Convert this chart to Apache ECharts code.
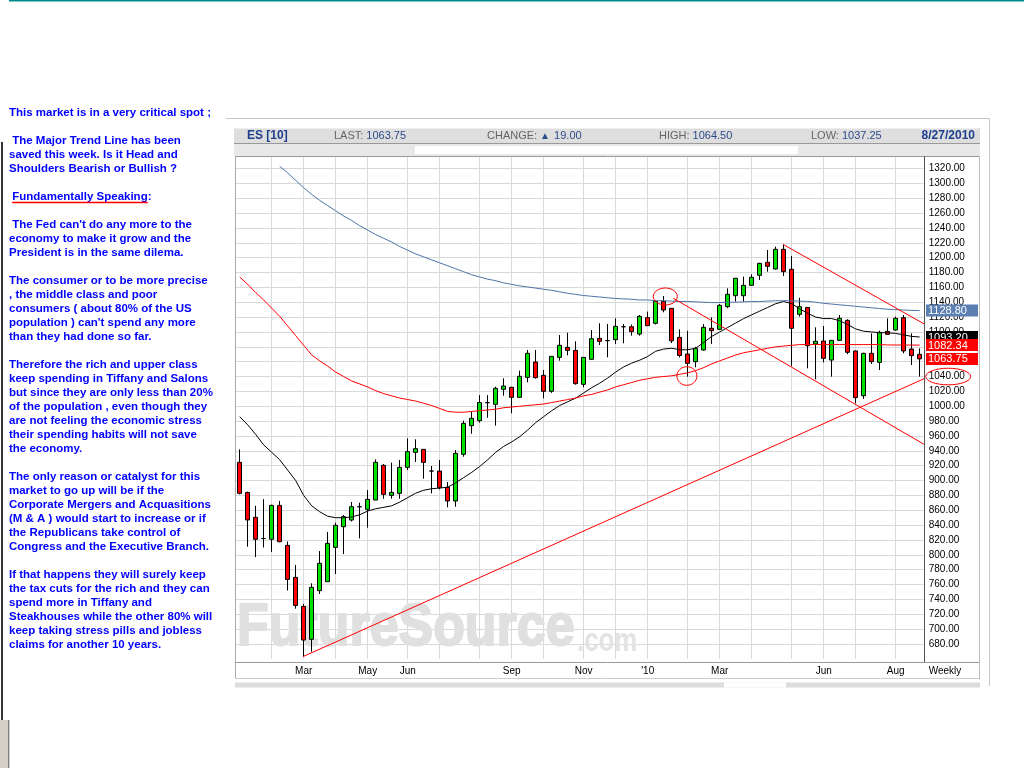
<!DOCTYPE html>
<html>
<head>
<meta charset="utf-8">
<title>ES [10] weekly</title>
<script src="https://cdn.jsdelivr.net/npm/echarts@6/dist/echarts.min.js"></script>
<style>
  html, body { margin: 0; padding: 0; background: #fff; }
  #chart { width: 1024px; height: 768px; }
</style>
</head>
<body>
<div id="chart"></div>
<script>
// weekly bars, Friday of each week
var weeks = [
  '2009-01-09','2009-01-16','2009-01-23','2009-01-30',
  '2009-02-06','2009-02-13','2009-02-20','2009-02-27',
  '2009-03-06','2009-03-13','2009-03-20','2009-03-27',
  '2009-04-03','2009-04-10','2009-04-17','2009-04-24',
  '2009-05-01','2009-05-08','2009-05-15','2009-05-22','2009-05-29',
  '2009-06-05','2009-06-12','2009-06-19','2009-06-26',
  '2009-07-03','2009-07-10','2009-07-17','2009-07-24','2009-07-31',
  '2009-08-07','2009-08-14','2009-08-21','2009-08-28',
  '2009-09-04','2009-09-11','2009-09-18','2009-09-25',
  '2009-10-02','2009-10-09','2009-10-16','2009-10-23','2009-10-30',
  '2009-11-06','2009-11-13','2009-11-20','2009-11-27',
  '2009-12-04','2009-12-11','2009-12-18','2009-12-25',
  '2010-01-01','2010-01-08','2010-01-15','2010-01-22','2010-01-29',
  '2010-02-05','2010-02-12','2010-02-19','2010-02-26',
  '2010-03-05','2010-03-12','2010-03-19','2010-03-26',
  '2010-04-02','2010-04-09','2010-04-16','2010-04-23','2010-04-30',
  '2010-05-07','2010-05-14','2010-05-21','2010-05-28',
  '2010-06-04','2010-06-11','2010-06-18','2010-06-25',
  '2010-07-02','2010-07-09','2010-07-16','2010-07-23','2010-07-30',
  '2010-08-06','2010-08-13','2010-08-20','2010-08-27'
];

var opens = [
  924.5,884,850.5,822,821,866.6,812.8,769.7,730.7,686.3,
  751.8,763.9,810.1,837.9,846.9,864.8,861.3,873.8,920.5,880.1,
  882.8,917.8,938,942,912.8,912.8,890.9,872.5,935.3,973.9,
  980.6,1004.8,1002.6,1022.8,1025.5,1012,1038.9,1059.5,1041.6,1020.1,
  1065.8,1079.3,1075.2,1029.5,1063.1,1091.4,1088.3,1089.6,1107,1107,
  1097.2,1119.2,1111.6,1141.2,1131.8,1092.7,1070.3,1060,1075.7,1104.9,
  1103.5,1134,1148.8,1148.8,1162.7,1176.2,1193.7,1184.7,1211.2,1184.3,
  1123.7,1133,1083.8,1087.8,1062.2,1088.7,1115.6,1074.4,1014.2,1071.2,
  1059.1,1100.8,1102.6,1119.2,1077,1069.9
];
var closes = [
  882.8,847,821,822,866.6,817.7,767,732,685.4,756.3,
  788.6,815.5,839.7,851.4,864.8,864.8,874.7,924.5,881.4,884.1,
  917.8,938.9,942.9,924.5,912.8,890.4,872.5,936.6,977,983.7,
  1005,1004.8,1024.1,1027.2,1012,1040.3,1071.2,1038.5,1020.1,1067.2,
  1082,1075.2,1030.4,1065.8,1090.9,1087.4,1088.3,1107.5,1107,1100.4,
  1121,1108.4,1141.2,1129.5,1088,1068.3,1057.8,1077.9,1106.2,1101.7,
  1135.8,1150.6,1172.2,1162.7,1173.5,1192.3,1188.3,1211.2,1181.1,1104.9,
  1134,1081.5,1087.4,1064.5,1088.7,1118.3,1072.6,1011.6,1071.2,1060,
  1099.5,1096.8,1118.3,1074.4,1068.1,1063.75
];
var lows = [
  881.4,811,797,810,804,817,752,727.6,663,669.7,
  747.3,763.9,774.2,801.1,845,822.2,836.6,873.8,875.6,875.6,
  875.6,914.2,925,902.5,882.8,888.2,864,864.8,932.1,963,
  978,984.6,973.9,1014.2,990.5,1012,1032.2,1037.1,1010.6,1018,
  1061.3,1068.5,1029,1025.5,1063,1082.4,1065.8,1083.8,1084.7,1095,
  1095,1108,1110,1126.4,1085,1065.8,1039.8,1052.4,1075,1083.8,
  1103,1132,1140.8,1140.8,1162,1169.9,1181.1,1184,1175.3,1054.2,
  1120.6,1051,1036.2,1059.1,1039.8,1088,1070,1003.9,1010,1056.9,
  1048.8,1096,1102,1071.2,1055.5,1039.8
];
var highs = [
  942,885,866,875,867.5,872.5,818,786.4,734,761.7,
  805.2,830.8,843.3,853.6,871.1,870.2,887.3,928.5,922.3,924.1,
  927.7,956.8,955.5,942.5,919.6,927.7,898,941.1,980.6,993,
  1015,1015.1,1026.3,1037.6,1026,1047.9,1075.7,1075.7,1048.8,1067.5,
  1095.9,1099,1087.4,1066,1102.6,1111.6,1110.7,1118.3,1110.7,1110,
  1122.8,1127.3,1142,1148.4,1132,1103.5,1101.5,1080,1110.7,1119.7,
  1137.6,1158.7,1172.5,1174.4,1177.5,1193,1210.3,1214.8,1217,1202.2,
  1146,1133.5,1106.2,1108,1089,1122.8,1117,1075,1072,1098.1,
  1101.7,1118.3,1120.6,1122.8,1098.1,1077.9
];

// moving averages
var maShort = [
  986,975,962,948,938,928,914,900,880,866,
  858,852,850,850,851,854,859,862,864,866,
  871,877,883,887,889,890,891,897,904,911,
  919,928,938,946,952,959,968,978,986,994,
  1001,1006,1011,1018,1025,1031,1038,1046,1053,1058,
  1062,1067,1074,1077,1078,1076,1076,1078,1086,1094,
  1100,1106,1112,1118,1123,1128,1133,1138,1141,1138,
  1131,1125,1120,1118,1118,1115,1110,1104,1101,1100,
  1099,1099,1098,1096,1094,1093.2
];
var maMid = [
  1174,1164,1153,1143,1132,1121,1108,1095,1082,1069,
  1061,1054,1046,1040,1034,1030,1026,1021,1017,1014,
  1011,1009,1007,1004,1001,997,993,992,992,993,
  994,995,996,998,999,1000,1001,1002,1003,1005,
  1007,1009,1011,1014,1016,1019,1022,1026,1029,1032,
  1035,1037,1039,1040,1041,1043,1045,1048,1052,1057,
  1061,1065,1069,1072,1074,1076,1078,1080,1081,1082,
  1083,1083,1083,1083,1083,1083,1083,1083,1083,1083,
  1083,1082.5,1082.4,1082.4,1082.3,1082.34
];
var maLong = [
  null,null,null,null,null,1323,1314,1304,1294,1285,
  1277,1270,1263,1256,1250,1243,1237,1231,1226,1221,
  1215,1210,1205,1201,1197,1193,1189,1185,1181,1177,
  1174,1171,1169,1166,1164,1162,1160.5,1159,1157.5,1156,
  1154,1152,1150.5,1149,1148,1147,1146,1145,1144.5,1144,
  1143,1143,1142,1142,1141.5,1141,1141,1140.5,1140,1139.5,
  1139.5,1140,1140,1140.5,1141,1141,1141.5,1142,1142,1142,
  1141.5,1141,1140,1138.5,1137.5,1136.5,1135.5,1134.5,1133.5,1132.5,
  1131.5,1130.5,1130,1129.5,1129,1128.8
];

// hand drawn lines, [week index, price]
var trendUp = [[7.9, 663], [85.66, 1037.6]];
var channelTop = [[67.9, 1218], [86.9, 1102.6]];
var channelLow = [[54.2, 1145.3], [85.5, 949], [95, 947]];
// circled spots, [week index, price]
var circleTop = [53.2, 1147.7];
var circleLow = [55.9, 1040.7];
var supportLevel = 1040;

var tickIdx = [8, 16, 21, 34, 43, 51, 60, 73, 82];
var tickLabels = ['Mar', 'May', 'Jun', 'Sep', 'Nov', "'10", 'Mar', 'Jun', 'Aug'];

var header = {
  symbol: 'ES [10]', last: '1063.75', change: '19.00',
  high: '1064.50', low: '1037.25', date: '8/27/2010'
};

var notes = [
  'This market is in a very critical spot ;',
  '',
  ' The Major Trend Line has been',
  'saved this week. Is it Head and',
  'Shoulders Bearish or Bullish ?',
  '',
  ' Fundamentally Speaking:',
  '',
  " The Fed can't do any more to the",
  'economy to make it grow and the',
  'President is in the same dilema.',
  '',
  'The consumer or to be more precise',
  ', the middle class and poor',
  'consumers ( about 80% of the US',
  "population ) can't spend any more",
  'than they had done so far.',
  '',
  'Therefore the rich and upper class',
  'keep spending in Tiffany and Salons',
  'but since they are only less than 20%',
  'of the population , even though they',
  'are not feeling the economic stress',
  'their spending habits will not save',
  'the economy.',
  '',
  'The only reason or catalyst for this',
  'market to go up will be if the',
  'Corporate Mergers and Acquasitions',
  '(M & A ) would start to increase or if',
  'the Republicans take control of',
  'Congress and the Executive Branch.',
  '',
  'If that happens they will surely keep',
  'the tax cuts for the rich and they can',
  'spend more in Tiffany and',
  'Steakhouses while the other 80% will',
  'keep taking stress pills and jobless',
  'claims for another 10 years.'
];

var FONT = '"Liberation Sans", Arial, sans-serif';
var noteFont = 'bold 11.5px ' + FONT;

var monthStarts = [];
for (var i = 1; i < weeks.length; i++) {
  if (weeks[i].slice(5, 7) !== weeks[i - 1].slice(5, 7)) monthStarts.push(i);
}

var chart = echarts.init(document.getElementById('chart'));

var redLine = { color: '#ff0000', width: 1 };

chart.setOption({
  animation: false,
  backgroundColor: '#fff',
  grid: { left: 235.7, top: 153.6, width: 688, height: 505.3 },
  xAxis: [{
    type: 'category',
    data: weeks,
    boundaryGap: true,
    axisLine: { show: false },
    axisTick: { show: false },
    splitLine: { show: false },
    axisLabel: {
      interval: function (idx) { return tickIdx.indexOf(idx) >= 0; },
      formatter: function (v, idx) { return tickLabels[tickIdx.indexOf(idx)]; },
      color: '#000', fontSize: 10, fontFamily: FONT, margin: 7
    }
  }, {
    type: 'value', min: -0.5, max: 85.5, show: false,
    splitLine: { show: false }
  }],
  yAxis: {
    type: 'value',
    position: 'right',
    min: 660, max: 1340, interval: 20,
    axisLine: { show: false },
    axisTick: { show: false },
    axisLabel: {
      formatter: function (v) { return v.toFixed(2); },
      color: '#000', fontSize: 10, fontFamily: FONT, margin: 5,
      showMinLabel: false, showMaxLabel: false
    },
    splitLine: { show: true, showMinLine: false, showMaxLine: false, lineStyle: { color: '#d9d9d9', width: 1 } }
  },
  series: [{
    type: 'candlestick',
    name: 'ES',
    barWidth: 5,
    data: weeks.map(function (d, i) { return [opens[i], closes[i], lows[i], highs[i]]; }),
    itemStyle: {
      color: '#00e000', color0: '#ff0000',
      borderColor: '#000', borderColor0: '#000', borderWidth: 1
    },
    emphasis: { disabled: true },
    markLine: {
      z: 0, silent: true, symbol: 'none', animation: false,
      label: { show: false },
      lineStyle: { color: '#d9d9d9', width: 1, type: 'solid' },
      emphasis: { disabled: true },
      data: monthStarts.map(function (i) { return { xAxis: weeks[i] }; })
    }
  }, {
    type: 'line', name: 'MA short', data: maShort, showSymbol: false, z: 3,
    lineStyle: { color: '#000', width: 1 }, silent: true
  }, {
    type: 'line', name: 'MA mid', data: maMid, showSymbol: false, z: 3,
    lineStyle: { color: '#ff0000', width: 1 }, silent: true
  }, {
    type: 'line', name: 'MA long', data: maLong, showSymbol: false, z: 3,
    lineStyle: { color: '#4f73a8', width: 1 }, silent: true
  }, {
    type: 'line', xAxisIndex: 1, data: trendUp, showSymbol: false, z: 4,
    lineStyle: redLine, silent: true, clip: false
  }, {
    type: 'line', xAxisIndex: 1, data: channelTop, showSymbol: false, z: 4,
    lineStyle: redLine, silent: true, clip: false
  }, {
    type: 'line', xAxisIndex: 1, data: channelLow, showSymbol: false, z: 4,
    lineStyle: redLine, silent: true, clip: false
  }]
});

// page decorations and texts
function px(x, y) { return chart.convertToPixel({ xAxisIndex: 1, yAxisIndex: 0 }, [x, y]); }
function py(v) { return chart.convertToPixel({ yAxisIndex: 0 }, v); }

var ctx = document.createElement('canvas').getContext('2d');
function textWidth(s, font) { ctx.font = font; return ctx.measureText(s).width; }

var els = [];
function rect(x, y, w, h, fill, z) {
  els.push({ type: 'rect', silent: true, z: z || 50, shape: { x: x, y: y, width: w, height: h }, style: { fill: fill } });
}
function line(x1, y1, x2, y2, stroke, w, z) {
  els.push({ type: 'line', silent: true, z: z || 50, shape: { x1: x1, y1: y1, x2: x2, y2: y2 }, style: { stroke: stroke, lineWidth: w || 1 } });
}
function text(x, y, s, font, fill, align, z) {
  els.push({ type: 'text', silent: true, z: z || 60, x: x, y: y,
    style: { text: s, font: font, fill: fill, textAlign: align || 'left', textVerticalAlign: 'middle' } });
}

// top strip and left border
rect(9, 0, 1015, 1.5, '#008b8b');
rect(1, 142, 2, 578, '#333');
rect(0, 720, 10, 48, '#d4d0c8');
line(8.5, 720, 8.5, 768, '#808080', 1);

// notes
notes.forEach(function (s, k) {
  if (s) text(9, 113 + 14 * k, s, noteFont, '#0000ff', 'left');
});
var ulStart = 9 + textWidth(' ', noteFont);
var ulEnd = ulStart + textWidth('Fundamentally Speaking', noteFont);
line(ulStart, 202.5, ulEnd, 202.5, '#ff0000', 1.5, 61);

// outer chart box
line(226, 118.5, 989.5, 118.5, '#c4c4c4', 1);
line(989.5, 118.5, 989.5, 686, '#c4c4c4', 1);

// header bar
rect(234, 128.5, 746, 14.5, '#dedede');
line(234, 143.5, 980, 143.5, '#999', 1);
rect(234, 144, 746, 12, '#e8e8e8');
rect(415, 146, 383, 8, '#fff');
var hdrBold = 'bold 12px ' + FONT;
var hdrLbl = '11px ' + FONT;
function field(x, label, value) {
  text(x, 136, label, hdrLbl, '#666');
  text(x + textWidth(label, hdrLbl) + 3, 136, value, hdrLbl, '#2c4b8a');
}
text(247, 136, header.symbol, hdrBold, '#1d3f8c');
field(334, 'LAST:', header.last);
text(487, 136, 'CHANGE:', hdrLbl, '#666');
var chX = 487 + textWidth('CHANGE:', hdrLbl) + 3;
text(chX, 136, '\u25B2', '10px ' + FONT, '#2c4b8a');
text(chX + 14, 136, header.change, hdrLbl, '#2c4b8a');
field(659, 'HIGH:', header.high);
field(811, 'LOW:', header.low);
text(975, 136, header.date, hdrBold, '#1d3f8c', 'right');

// plot frame
line(235, 156.5, 980, 156.5, '#999', 1, 40);
line(235.5, 156, 235.5, 678, '#aaa', 1, 40);
line(924.5, 156, 924.5, 662, '#555', 1, 40);
line(235, 662.5, 980, 662.5, '#999', 1, 40);
line(235, 678.5, 980, 678.5, '#ccc', 1, 40);
line(979.5, 128, 979.5, 679, '#bbb', 1, 40);
rect(235, 682.5, 745, 5, '#dcdcdc', 40);
rect(724, 682.5, 62, 5, '#fff', 41);
text(945, 671.5, 'Weekly', '10px ' + FONT, '#000', 'center');

// watermark (behind the bars)
els.push({ type: 'text', silent: true, z: 1, x: 237, y: 658.5, scaleX: 0.88,
  style: { text: 'FutureSource', font: 'bold 59px ' + FONT, fill: '#e0e0e0',
    stroke: '#e0e0e0', lineWidth: 2, textVerticalAlign: 'bottom' } });
els.push({ type: 'text', silent: true, z: 1, x: 577, y: 658.5, scaleX: 0.76,
  style: { text: '.com', font: 'bold 34px ' + FONT, fill: '#e3e3e3', textVerticalAlign: 'bottom' } });

// last-value tags on the price axis
var tagFont = '11px ' + FONT;
function tag(v, fill, z) {
  var y = py(v);
  rect(926, y - 6, 52, 12, fill, z);
  text(928, y + 0.5, v.toFixed(2), tagFont, '#fff', 'left', z + 1);
}
tag(maShort[maShort.length - 1], '#000', 70);
tag(maLong[maLong.length - 1], '#5b7fb1', 72);
tag(maMid[maMid.length - 1], '#ff0000', 74);
tag(closes[closes.length - 1], '#ff0000', 76);

// red circles
function ellipse(cx, cy, rx, ry) {
  els.push({ type: 'ellipse', silent: true, z: 80, shape: { cx: cx, cy: cy, rx: rx, ry: ry },
    style: { fill: 'none', stroke: '#ff0000', lineWidth: 1 } });
}
var c1 = px(circleTop[0], circleTop[1]);
ellipse(c1[0], c1[1], 12, 8.5);
var c2 = px(circleLow[0], circleLow[1]);
ellipse(c2[0], c2[1], 10, 9.3);
ellipse(948.2, py(supportLevel), 22.5, 8.3);

chart.setOption({ graphic: { elements: els } });
</script>
</body>
</html>
